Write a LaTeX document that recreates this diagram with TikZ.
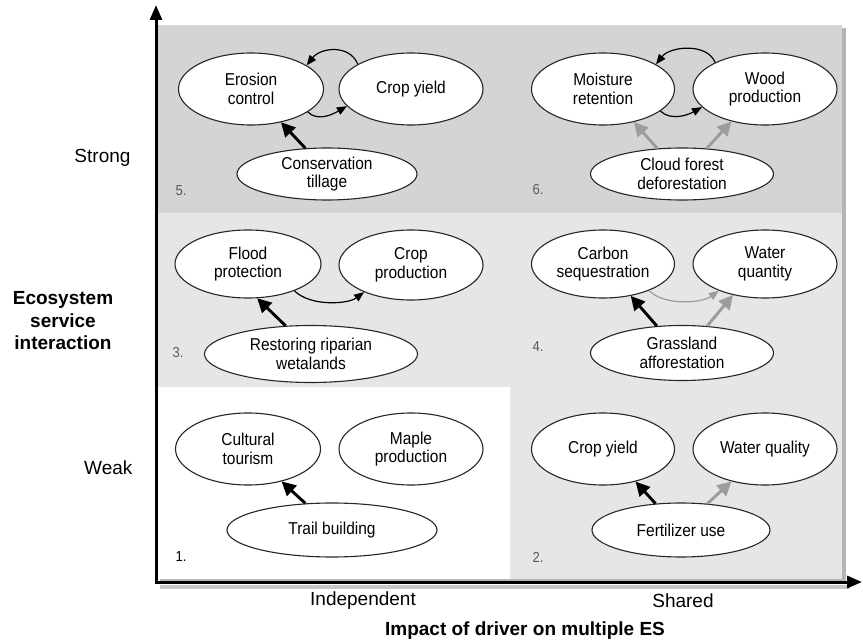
\documentclass[tikz,border=0pt]{standalone}
\usepackage{fontspec}
\setmainfont{Liberation Sans}
\newfontfamily\condsans{Liberation Sans}[FakeStretch=0.9]
\usetikzlibrary{shapes.geometric,arrows.meta}
\definecolor{topgray}{HTML}{D4D4D4}
\definecolor{midgray}{HTML}{E5E6E7}
\definecolor{shadowgray}{HTML}{B4B4B4}
\definecolor{arrgray}{HTML}{9C9C9C}
\definecolor{numgray}{HTML}{5A5A5A}
\begin{document}
\begin{tikzpicture}[x=1pt,y=-1pt,
  es/.style={ellipse, draw=black!85, line width=1.1pt, fill=white, inner sep=0pt, align=center, font=\condsans\fontsize{17.2}{18.8}\selectfont},
  bigarr/.style={line width=2.9pt, -{Triangle[length=14pt,width=14pt]}},
  thinarr/.style={line width=1.2pt, -{Triangle[length=10pt,width=8pt]}},
  num/.style={font=\condsans\fontsize{14.5}{16}\selectfont, text=numgray},
  axlab/.style={font=\fontsize{19}{22}\selectfont},
  axtitle/.style={font=\fontsize{19}{22.5}\selectfont\bfseries, align=center},
]
\useasboundingbox (0,0) rectangle (863,642);

% panels
\fill[shadowgray] (160,28) rectangle (846,582);
\fill[topgray] (157,25) rectangle (842,213);
\fill[midgray] (157,213) rectangle (842,387);
\fill[white] (157,387) rectangle (510,579);
\fill[midgray] (510,387) rectangle (842,579);

% axes
\coordinate (O) at (156,582);
\coordinate (Y) at (156,5);
\coordinate (X) at (862,582);
\draw[gray!45, line width=4pt] (160,587) -- (850,587);
\draw[line width=3pt, line join=miter, {Triangle[length=15pt,width=12pt]}-{Triangle[length=15pt,width=12pt]}] (Y) -- (O) -- (X);

% axis labels
\node[axlab, anchor=east] (strong) at (134,158) {Strong};
\node[axlab, anchor=east] (weak) at (136,468) {Weak};
\node[axtitle] (ytitle) at (63,321) {Ecosystem\\service\\interaction};
\node[axlab] (indep) at (363,601) {Independent};
\node[axlab] (shared) at (683,601) {Shared};
\node[axtitle] (xtitle) at (525,631) {Impact of driver on multiple ES};

% panel 5
\node[es, minimum width=145pt, minimum height=72pt] (ec) at (251,89) {Erosion\\control};
\node[es, minimum width=144pt, minimum height=72pt] (cy) at (411,89) {Crop yield};
\node[es, minimum width=180pt, minimum height=52pt] (ct) at (327,174) {Conservation\\tillage};
\node[num] (n5) at (181,191) {5.};
\draw[thinarr] (cy.155) .. controls +(-8,-20) and +(14,-18) .. (ec.23);
\draw[thinarr] (ec.-22) .. controls +(10,10) and +(-14,8) .. (cy.-165);
\draw[bigarr] (ct.130) -- (ec.-48);

% panel 6
\node[es, minimum width=143pt, minimum height=72pt] (mr) at (603,89) {Moisture\\retention};
\node[es, minimum width=144pt, minimum height=72pt] (wp) at (765,89) {Wood\\production};
\node[es, minimum width=183pt, minimum height=52pt] (cf) at (682,174) {Cloud forest\\deforestation};
\node[num] (n6) at (538,190) {6.};
\draw[thinarr] (wp.152) .. controls +(-8,-20) and +(14,-18) .. (mr.25);
\draw[thinarr] (mr.-21) .. controls +(10,10) and +(-14,8) .. (wp.-164);
\draw[bigarr, arrgray] (cf.134) -- (mr.-47);
\draw[bigarr, arrgray] (cf.46) -- (wp.-136);

% panel 3
\node[es, minimum width=146pt, minimum height=68pt] (fp) at (248,264) {Flood\\protection};
\node[es, minimum width=144pt, minimum height=70pt] (cp) at (411,265) {Crop\\production};
\node[es, minimum width=213pt, minimum height=57pt] (rw) at (311,354) {Restoring riparian\\wetalands};
\node[num] (n3) at (178,353) {3.};
\draw[thinarr] (fp.-30) .. controls +(16,16) and +(-16,12) .. (cp.-150);
\draw[bigarr] (rw.132) -- (fp.-75);

% panel 4
\node[es, minimum width=143pt, minimum height=68pt] (cs) at (603,264) {Carbon\\sequestration};
\node[es, minimum width=144pt, minimum height=68pt] (wq) at (765,264) {Water\\quantity};
\node[es, minimum width=183pt, minimum height=55pt] (ga) at (682,353) {Grassland\\afforestation};
\node[num] (n4) at (538,347) {4.};
\draw[thinarr, arrgray] (cs.-30) .. controls +(16,16) and +(-16,12) .. (wq.-150);
\draw[bigarr] (ga.133) -- (cs.-49);
\draw[bigarr, arrgray] (ga.47) -- (wq.-136);

% panel 1
\node[es, minimum width=145pt, minimum height=72pt] (ctour) at (248,449) {Cultural\\tourism};
\node[es, minimum width=144pt, minimum height=72pt] (mp) at (411,449) {Maple\\production};
\node[es, minimum width=210pt, minimum height=54pt] (tb) at (332,530) {Trail building};
\node[num, text=black] (n1) at (181,557) {1.};
\draw[bigarr] (tb.135) -- (ctour.-44);

% panel 2
\node[es, minimum width=143pt, minimum height=72pt] (cy2) at (603,449) {Crop yield};
\node[es, minimum width=144pt, minimum height=72pt] (wql) at (765,449) {Water quality};
\node[es, minimum width=178pt, minimum height=54pt] (fu) at (681,530) {Fertilizer use};
\node[num] (n2) at (538,557) {2.};
\draw[bigarr] (fu.134) -- (cy2.-45);
\draw[bigarr, arrgray] (fu.45) -- (wql.-136);
\end{tikzpicture}
\end{document}
